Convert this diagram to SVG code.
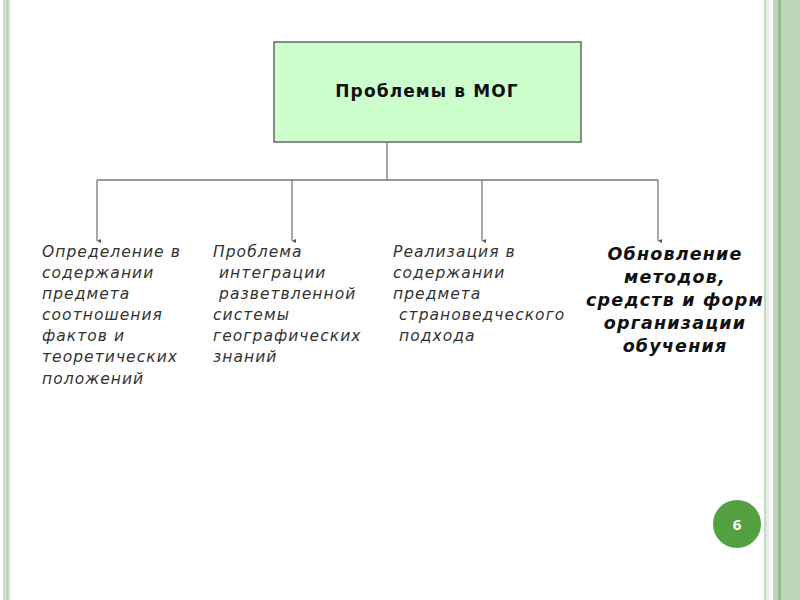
<svg xmlns="http://www.w3.org/2000/svg" width="800" height="600" viewBox="0 0 800 600">
<defs>
<style>
.conn{fill:none;stroke:#777;stroke-width:1.3}
.it{font-family:"DejaVu Sans",Verdana,sans-serif;font-style:italic;font-size:15.5px;fill:#333;letter-spacing:1.05px}
.bd{font-family:"DejaVu Sans",Verdana,sans-serif;font-weight:bold;font-size:17px;fill:#111;letter-spacing:1.1px;text-anchor:middle}
.bi{font-family:"DejaVu Sans",Verdana,sans-serif;font-weight:bold;font-style:italic;font-size:17.5px;fill:#111;letter-spacing:1.2px;text-anchor:middle}
</style>
<marker id="ah" viewBox="0 0 6 6" refX="3" refY="6" markerWidth="4" markerHeight="4" orient="auto-start-reverse" markerUnits="userSpaceOnUse">
<path d="M0,0 L6,0 L3,6 Z" fill="#555"/>
</marker>
</defs>
<rect width="800" height="600" fill="#ffffff"/>
<g id="border-left">
<rect x="3" y="0" width="7" height="600" fill="#d8e6d5"/>
<rect x="4" y="0" width="1" height="600" fill="#c2d8bf"/>
<rect x="6" y="0" width="2" height="600" fill="#bcd5b8"/>
<rect x="8" y="0" width="2" height="600" fill="#cfe0cc"/>
</g>
<g id="border-right">
<rect x="764" y="0" width="2" height="600" fill="#c4dbc1"/>
<rect x="766" y="0" width="3" height="600" fill="#e6efe4"/>
<rect x="773" y="0" width="5" height="600" fill="#bdd6b9"/>
<rect x="778" y="0" width="3" height="600" fill="#92c08b"/>
<rect x="781" y="0" width="6" height="600" fill="#bdd6b9"/>
<rect x="787" y="0" width="13" height="600" fill="#bfd6bb"/>
</g>
<g id="root">
<rect x="274" y="42" width="307" height="100" fill="#ccffcc" stroke="#666" stroke-width="1.5"/>
<text x="427" y="97" class="bd">Проблемы в МОГ</text>
</g>
<g id="connectors">
<polyline class="conn" points="387,142 387,180"/>
<polyline class="conn" points="97,180 658,180"/>
<line class="conn" x1="97" y1="180" x2="97" y2="241" marker-end="url(#ah)"/>
<line class="conn" x1="292" y1="180" x2="292" y2="241" marker-end="url(#ah)"/>
<line class="conn" x1="482" y1="180" x2="482" y2="241" marker-end="url(#ah)"/>
<line class="conn" x1="658" y1="180" x2="658" y2="241" marker-end="url(#ah)"/>
</g>
<g id="node1">
<text class="it" x="42" y="257">Определение в</text>
<text class="it" x="42" y="278">содержании</text>
<text class="it" x="42" y="299">предмета</text>
<text class="it" x="42" y="320">соотношения</text>
<text class="it" x="42" y="341">фактов и</text>
<text class="it" x="42" y="362">теоретических</text>
<text class="it" x="42" y="384">положений</text>
</g>
<g id="node2">
<text class="it" x="213" y="257">Проблема</text>
<text class="it" x="219" y="278">интеграции</text>
<text class="it" x="219" y="299">разветвленной</text>
<text class="it" x="213" y="320">системы</text>
<text class="it" x="213" y="341">географических</text>
<text class="it" x="213" y="362">знаний</text>
</g>
<g id="node3">
<text class="it" x="393" y="257">Реализация в</text>
<text class="it" x="393" y="278">содержании</text>
<text class="it" x="393" y="299">предмета</text>
<text class="it" x="399" y="320">страноведческого</text>
<text class="it" x="399" y="341">подхода</text>
</g>
<g id="node4">
<text class="bi" x="675" y="260">Обновление</text>
<text class="bi" x="675" y="283">методов,</text>
<text class="bi" x="675" y="306">средств и форм</text>
<text class="bi" x="675" y="329">организации</text>
<text class="bi" x="675" y="352">обучения</text>
</g>
<g id="page-number">
<circle cx="737" cy="524" r="24" fill="#52a03f"/>
<text x="737" y="529.5" font-family="'Open Sans','DejaVu Sans',sans-serif" font-weight="bold" font-size="15" fill="#ffffff" text-anchor="middle">6</text>
</g>
</svg>
